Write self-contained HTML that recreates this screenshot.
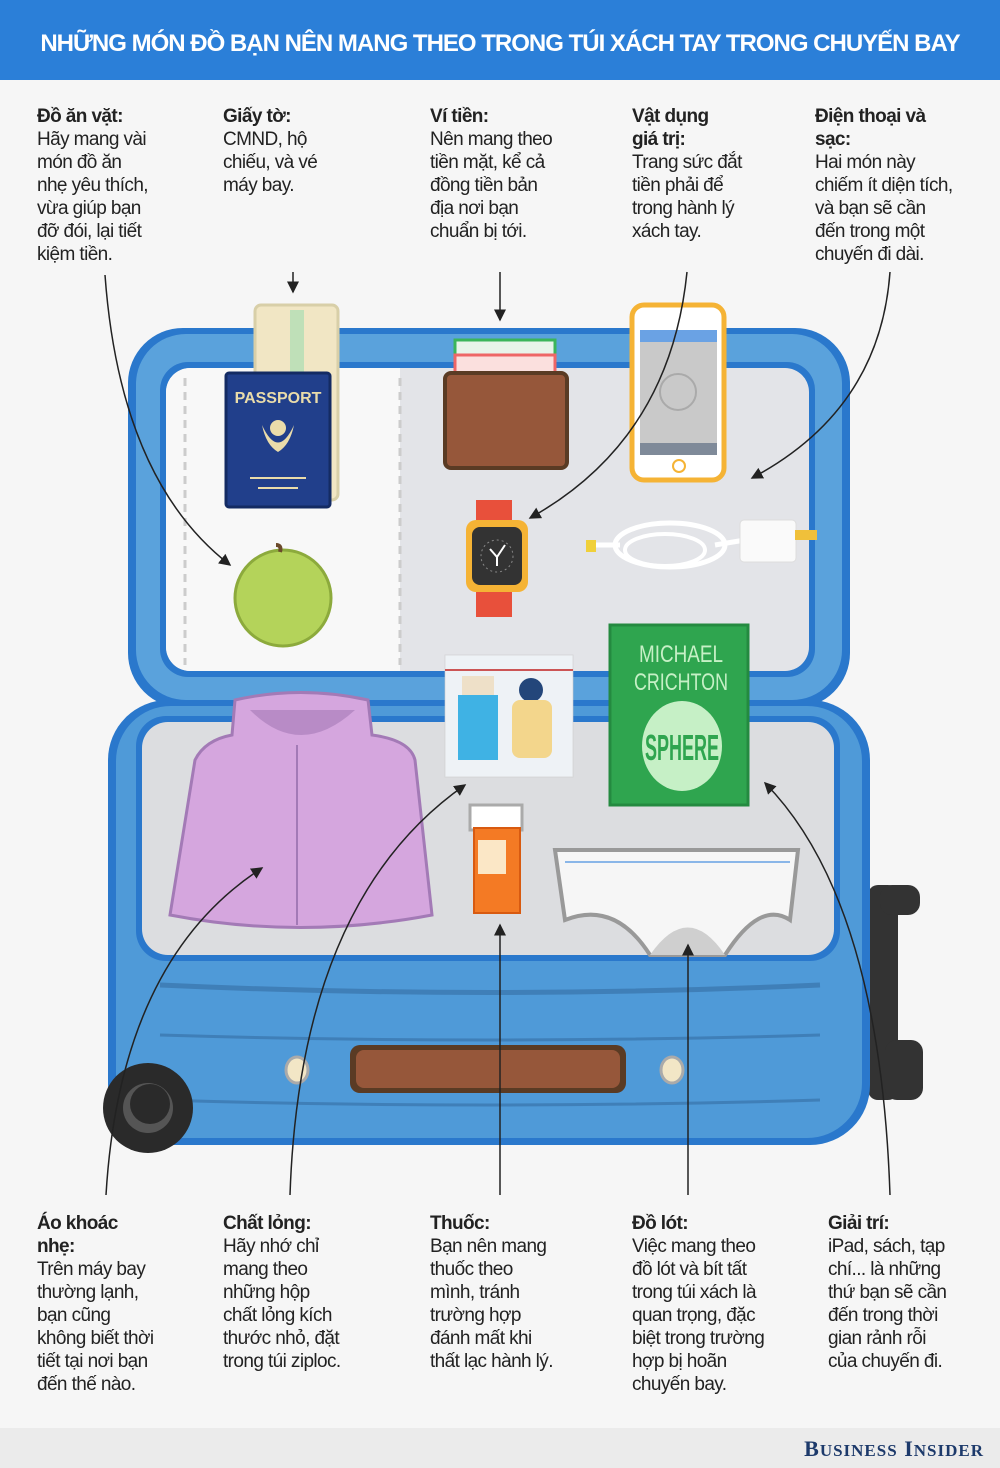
<!DOCTYPE html>
<html><head><meta charset="utf-8"><style>
body{margin:0;width:1000px;height:1468px;background:#f6f6f6;position:relative;overflow:hidden;font-family:"Liberation Sans","DejaVu Sans",sans-serif;color:#222}
.hd{position:absolute;left:0;top:0;width:1000px;height:80px;background:#2b7fd8;color:#fff;font-weight:bold;font-size:24px;text-align:center;line-height:88px;letter-spacing:-1px;white-space:nowrap}
.t{position:absolute;font-size:19px;line-height:23px;letter-spacing:-0.6px;color:#222;white-space:nowrap}
.t b{font-weight:bold}
.ft{position:absolute;left:0;top:1428px;width:1000px;height:40px;background:#ebebeb}
.bi{position:absolute;right:16px;top:1436px;font-family:"Liberation Serif",serif;font-weight:bold;color:#1d3a6b;font-size:22px;letter-spacing:1px}
svg{position:absolute;left:0;top:0}
</style></head><body>
<div class="hd">NHỮNG MÓN ĐỒ BẠN NÊN MANG THEO TRONG TÚI XÁCH TAY TRONG CHUYẾN BAY</div>
<svg width="1000" height="1468" viewBox="0 0 1000 1468">
<defs><marker id="a" markerWidth="8" markerHeight="8" refX="7" refY="4" orient="auto"><path d="M0,0 L8,4 L0,8 z" fill="#222"/></marker></defs>
<rect x="868" y="885" width="30" height="215" rx="10" fill="#333"/>
<rect x="880" y="885" width="40" height="30" rx="12" fill="#333"/>
<rect x="885" y="1040" width="38" height="60" rx="12" fill="#333"/>
<rect x="118" y="768" width="12" height="40" fill="#333"/><rect x="112" y="995" width="12" height="40" fill="#333"/>
<rect x="128" y="328" width="722" height="380" rx="55" fill="#2a78cc"/>
<rect x="136" y="334" width="706" height="366" rx="50" fill="#5aa2dc"/>
<rect x="160" y="362" width="655" height="315" rx="28" fill="#2a78cc"/>
<rect x="166" y="368" width="643" height="303" rx="24" fill="#e3e4e8"/>
<path d="M190,368 H400 V671 H190 A24,24 0 0 1 166,647 V392 A24,24 0 0 1 190,368z" fill="#f8f8f8"/>
<line x1="185" y1="378" x2="185" y2="665" stroke="#ccc" stroke-width="3" stroke-dasharray="8 6"/>
<line x1="400" y1="378" x2="400" y2="665" stroke="#ccc" stroke-width="3" stroke-dasharray="8 6"/>
<rect x="108" y="700" width="762" height="445" rx="60" fill="#2a78cc"/>
<rect x="116" y="706" width="746" height="432" rx="55" fill="#4f9ad8"/>
<rect x="136" y="716" width="704" height="245" rx="30" fill="#2a78cc"/>
<rect x="142" y="722" width="692" height="233" rx="26" fill="#dcdde0"/>
<path d="M160,985 Q490,1000 820,985" stroke="#3f7fb8" stroke-width="5" fill="none"/>
<path d="M160,1035 Q490,1045 820,1035" stroke="#3f7fb8" stroke-width="3" fill="none"/>
<path d="M160,1100 Q490,1110 820,1100" stroke="#3f7fb8" stroke-width="3" fill="none"/>
<rect x="350" y="1045" width="276" height="48" rx="10" fill="#5a3b24"/>
<rect x="356" y="1050" width="264" height="38" rx="8" fill="#96573a"/>
<ellipse cx="297" cy="1070" rx="11" ry="13" fill="#f2e6c6" stroke="#aaa" stroke-width="3"/>
<ellipse cx="672" cy="1070" rx="11" ry="13" fill="#f2e6c6" stroke="#aaa" stroke-width="3"/>
<circle cx="148" cy="1108" r="45" fill="#2a2a2a"/><circle cx="148" cy="1108" r="25" fill="#555"/><circle cx="150" cy="1104" r="20" fill="#2a2a2a"/>
<rect x="255" y="305" width="83" height="195" rx="6" fill="#f1e6c4" stroke="#d8cfa8" stroke-width="3"/>
<rect x="290" y="310" width="14" height="70" fill="#bfe0b8"/>
<rect x="226" y="373" width="104" height="134" rx="3" fill="#213f8b" stroke="#142b63" stroke-width="3"/>
<text x="278" y="403" text-anchor="middle" font-size="16" font-weight="bold" fill="#eadcaa" font-family="Liberation Sans,sans-serif">PASSPORT</text>
<path d="M262,425 Q278,460 294,425 Q290,445 278,452 Q266,445 262,425z" fill="#eadcaa"/><circle cx="278" cy="428" r="8" fill="#eadcaa"/>
<line x1="250" y1="478" x2="306" y2="478" stroke="#eadcaa" stroke-width="2"/><line x1="258" y1="488" x2="298" y2="488" stroke="#eadcaa" stroke-width="2"/>
<rect x="455" y="340" width="100" height="40" fill="#e8f4ea" stroke="#3bb55b" stroke-width="3"/>
<rect x="455" y="355" width="100" height="30" fill="#fbe0de" stroke="#e66" stroke-width="3"/>
<rect x="445" y="373" width="122" height="95" rx="6" fill="#96573a" stroke="#5a3b24" stroke-width="4"/>
<rect x="632" y="305" width="92" height="175" rx="12" fill="#fff" stroke="#f5b335" stroke-width="5"/>
<rect x="640" y="330" width="77" height="125" fill="#c9c9c9"/>
<rect x="640" y="330" width="77" height="12" fill="#6aa2e4"/>
<rect x="640" y="443" width="77" height="12" fill="#7f8a99"/>
<circle cx="678" cy="392" r="18" fill="none" stroke="#aaa" stroke-width="2"/>
<circle cx="679" cy="466" r="6" fill="none" stroke="#f5b335" stroke-width="2"/>
<circle cx="283" cy="598" r="48" fill="#b4d35a" stroke="#8caa3c" stroke-width="3"/>
<path d="M280,552 Q282,545 276,545" stroke="#6b4a2b" stroke-width="4" fill="none"/>
<rect x="476" y="500" width="36" height="25" fill="#e8503b"/><rect x="476" y="590" width="36" height="27" fill="#e8503b"/>
<rect x="466" y="520" width="62" height="72" rx="10" fill="#f5b335"/>
<rect x="472" y="527" width="50" height="58" rx="8" fill="#333"/>
<circle cx="497" cy="556" r="16" fill="none" stroke="#888" stroke-dasharray="2 3"/>
<path d="M490,549 L497,557 L505,545 M497,557 L497,566" stroke="#fff" stroke-width="2" fill="none"/>
<ellipse cx="670" cy="545" rx="55" ry="22" fill="none" stroke="#fff" stroke-width="5"/>
<ellipse cx="665" cy="550" rx="40" ry="16" fill="none" stroke="#fff" stroke-width="4"/>
<path d="M590,545 L620,545 M715,545 L745,540" stroke="#fff" stroke-width="5"/>
<rect x="586" y="540" width="10" height="12" fill="#f0d03a"/>
<rect x="740" y="520" width="56" height="42" rx="4" fill="#fafafa" stroke="#ddd"/>
<rect x="795" y="530" width="22" height="10" fill="#f0c03a"/>
<rect x="445" y="655" width="128" height="122" fill="#eef2f6" stroke="#ccc" stroke-opacity=".6"/>
<line x1="445" y1="670" x2="573" y2="670" stroke="#c55" stroke-width="2"/>
<rect x="462" y="676" width="32" height="20" fill="#eee0c8"/>
<rect x="458" y="695" width="40" height="65" fill="#3fb2e4"/>
<circle cx="531" cy="690" r="12" fill="#23467a"/>
<rect x="512" y="700" width="40" height="58" rx="8" fill="#f3d68c"/>
<rect x="610" y="625" width="138" height="180" fill="#2fa54f" stroke="#248a40" stroke-width="3"/>
<text x="681" y="662" text-anchor="middle" font-size="24" fill="#c6f0c6" font-family="Liberation Sans,sans-serif" textLength="84" lengthAdjust="spacingAndGlyphs">MICHAEL</text>
<text x="681" y="690" text-anchor="middle" font-size="24" fill="#c6f0c6" font-family="Liberation Sans,sans-serif" textLength="94" lengthAdjust="spacingAndGlyphs">CRICHTON</text>
<ellipse cx="682" cy="746" rx="40" ry="45" fill="#c6f0c6"/>
<text x="682" y="760" text-anchor="middle" font-size="36" font-weight="bold" fill="#2fa54f" font-family="Liberation Sans,sans-serif" textLength="74" lengthAdjust="spacingAndGlyphs">SPHERE</text>
<path d="M235,700 Q300,685 368,700 L372,735 Q410,740 415,760 L432,915 Q300,940 170,915 L195,760 Q205,740 232,735z" fill="#d5a6de" stroke="#a37ab6" stroke-width="3"/>
<path d="M250,710 Q300,760 355,710" fill="#b88bc6"/>
<line x1="297" y1="745" x2="297" y2="925" stroke="#a37ab6" stroke-width="2"/>
<rect x="470" y="805" width="52" height="25" fill="#fff" stroke="#aaa" stroke-width="3"/>
<rect x="474" y="828" width="46" height="85" fill="#f47a24" stroke="#d85a10" stroke-width="2"/>
<rect x="478" y="840" width="28" height="34" fill="#fbe7c6"/>
<path d="M555,850 L798,850 L790,920 Q760,900 725,955 L650,955 Q615,900 565,920z" fill="#f6f6f6" stroke="#999" stroke-width="4"/>
<path d="M650,955 Q688,900 725,955z" fill="#cfcfcf"/>
<line x1="565" y1="862" x2="790" y2="862" stroke="#8ab6e8" stroke-width="2"/>
<g stroke="#222" stroke-width="1.5" fill="none" marker-end="url(#a)">
<path d="M105,275 Q120,480 230,565"/>
<path d="M293,272 L293,292"/>
<path d="M500,272 L500,320"/>
<path d="M687,272 Q670,440 530,518"/>
<path d="M890,272 Q880,410 752,478"/>
<path d="M106,1195 Q120,960 262,868"/>
<path d="M290,1195 Q300,900 465,785"/>
<path d="M500,1195 L500,925"/>
<path d="M688,1195 L688,945"/>
<path d="M890,1195 Q880,900 765,783"/>
</g>
</svg>
<div class="t" style="left:37px;top:105px"><b>Đồ ăn vặt:</b><br>Hãy mang vài<br>món đồ ăn<br>nhẹ yêu thích,<br>vừa giúp bạn<br>đỡ đói, lại tiết<br>kiệm tiền.</div>
<div class="t" style="left:223px;top:105px"><b>Giấy tờ:</b><br>CMND, hộ<br>chiếu, và vé<br>máy bay.</div>
<div class="t" style="left:430px;top:105px"><b>Ví tiền:</b><br>Nên mang theo<br>tiền mặt, kể cả<br>đồng tiền bản<br>địa nơi bạn<br>chuẩn bị tới.</div>
<div class="t" style="left:632px;top:105px"><b>Vật dụng<br>giá trị:</b><br>Trang sức đắt<br>tiền phải để<br>trong hành lý<br>xách tay.</div>
<div class="t" style="left:815px;top:105px"><b>Điện thoại và<br>sạc:</b><br>Hai món này<br>chiếm ít diện tích,<br>và bạn sẽ cần<br>đến trong một<br>chuyến đi dài.</div>
<div class="t" style="left:37px;top:1212px"><b>Áo khoác<br>nhẹ:</b><br>Trên máy bay<br>thường lạnh,<br>bạn cũng<br>không biết thời<br>tiết tại nơi bạn<br>đến thế nào.</div>
<div class="t" style="left:223px;top:1212px"><b>Chất lỏng:</b><br>Hãy nhớ chỉ<br>mang theo<br>những hộp<br>chất lỏng kích<br>thước nhỏ, đặt<br>trong túi ziploc.</div>
<div class="t" style="left:430px;top:1212px"><b>Thuốc:</b><br>Bạn nên mang<br>thuốc theo<br>mình, tránh<br>trường hợp<br>đánh mất khi<br>thất lạc hành lý.</div>
<div class="t" style="left:632px;top:1212px"><b>Đồ lót:</b><br>Việc mang theo<br>đồ lót và bít tất<br>trong túi xách là<br>quan trọng, đặc<br>biệt trong trường<br>hợp bị hoãn<br>chuyến bay.</div>
<div class="t" style="left:828px;top:1212px"><b>Giải trí:</b><br>iPad, sách, tạp<br>chí... là những<br>thứ bạn sẽ cần<br>đến trong thời<br>gian rảnh rỗi<br>của chuyến đi.</div>
<div class="ft"></div>
<div class="bi">B<span style="font-size:17px">USINESS</span> I<span style="font-size:17px">NSIDER</span></div>
</body></html>
